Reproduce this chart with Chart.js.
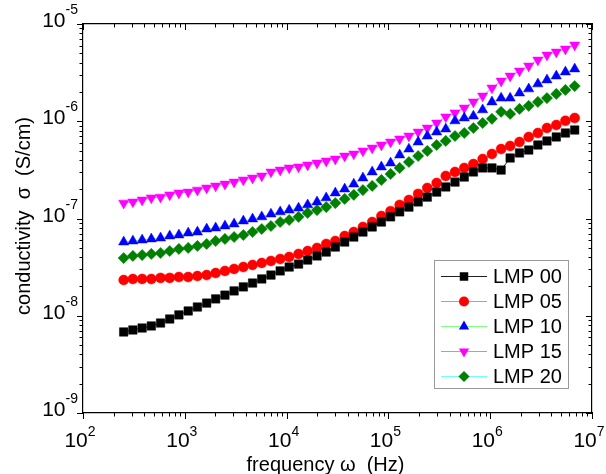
<!DOCTYPE html>
<html>
<head>
<meta charset="utf-8">
<title>conductivity vs frequency</title>
<style>
  html, body { margin: 0; padding: 0; background: #fff; }
  #wrap { width: 606px; height: 474px; }
</style>
</head>
<body>
<div id="wrap"><canvas id="condChart" width="606" height="474"></canvas></div>
<script src="https://cdn.jsdelivr.net/npm/chart.js@4.4.1/dist/chart.umd.min.js"></script>
<script>
// frequency points (Hz), shared by all samples
var freq = [251, 309, 381, 469, 578, 711, 875, 1080, 1330, 1640,
  2010, 2480, 3050, 3760, 4630, 5700, 7020, 8650, 10600, 13100,
  16100, 19900, 24500, 30100, 37200, 45700, 56200, 69300, 85300, 105000,
  129000, 159000, 196000, 241000, 298000, 366000, 451000, 556000, 684000, 843000,
  1040000, 1280000, 1570000, 1940000, 2390000, 2940000, 3610000, 4460000, 5480000, 6760000];

// conductivity (S/cm)
var lmp00 = [6.81e-9, 7.14e-9, 7.48e-9, 7.85e-9, 8.42e-9, 9.26e-9, 1.02e-8, 1.12e-8, 1.23e-8, 1.35e-8,
  1.49e-8, 1.63e-8, 1.80e-8, 1.98e-8, 2.17e-8, 2.39e-8, 2.62e-8, 2.89e-8, 3.17e-8, 3.40e-8,
  3.74e-8, 4.12e-8, 4.52e-8, 5.09e-8, 5.73e-8, 6.45e-8, 7.26e-8, 8.18e-8, 9.20e-8, 1.04e-7,
  1.17e-7, 1.31e-7, 1.48e-7, 1.66e-7, 1.87e-7, 2.11e-7, 2.37e-7, 2.67e-7, 3.01e-7, 3.31e-7,
  3.31e-7, 3.15e-7, 4.19e-7, 4.72e-7, 5.06e-7, 5.70e-7, 6.27e-7, 6.89e-7, 7.57e-7, 8.13e-7];
var lmp05 = [2.33e-8, 2.39e-8, 2.39e-8, 2.39e-8, 2.45e-8, 2.45e-8, 2.50e-8, 2.50e-8, 2.56e-8, 2.62e-8,
  2.75e-8, 2.89e-8, 3.03e-8, 3.17e-8, 3.33e-8, 3.49e-8, 3.66e-8, 3.83e-8, 4.02e-8, 4.32e-8,
  4.63e-8, 4.98e-8, 5.47e-8, 5.87e-8, 6.61e-8, 7.26e-8, 8.18e-8, 9.20e-8, 1.06e-7, 1.19e-7,
  1.38e-7, 1.55e-7, 1.79e-7, 2.06e-7, 2.32e-7, 2.74e-7, 3.01e-7, 3.31e-7, 3.63e-7, 4.09e-7,
  4.61e-7, 5.18e-7, 5.57e-7, 6.12e-7, 6.89e-7, 7.57e-7, 8.52e-7, 9.15e-7, 1.01e-6, 1.08e-6];
var lmp10 = [5.73e-8, 5.87e-8, 6.01e-8, 6.16e-8, 6.30e-8, 6.61e-8, 6.77e-8, 7.09e-8, 7.26e-8, 7.80e-8,
  7.99e-8, 8.37e-8, 8.78e-8, 9.43e-8, 9.88e-8, 1.04e-7, 1.11e-7, 1.17e-7, 1.22e-7, 1.28e-7,
  1.38e-7, 1.48e-7, 1.63e-7, 1.83e-7, 2.01e-7, 2.26e-7, 2.61e-7, 3.01e-7, 3.39e-7, 3.72e-7,
  4.50e-7, 5.18e-7, 6.12e-7, 7.05e-7, 7.75e-7, 8.32e-7, 1.01e-6, 1.08e-6, 1.13e-6, 1.31e-6,
  1.58e-6, 1.73e-6, 1.73e-6, 1.95e-6, 2.15e-6, 2.42e-6, 2.66e-6, 2.92e-6, 3.21e-6, 3.45e-6];
var lmp15 = [1.44e-7, 1.48e-7, 1.55e-7, 1.63e-7, 1.66e-7, 1.75e-7, 1.83e-7, 1.87e-7, 1.96e-7, 2.06e-7,
  2.16e-7, 2.26e-7, 2.37e-7, 2.49e-7, 2.61e-7, 2.74e-7, 3.01e-7, 3.15e-7, 3.31e-7, 3.39e-7,
  3.55e-7, 3.72e-7, 3.90e-7, 4.09e-7, 4.39e-7, 4.61e-7, 4.95e-7, 5.31e-7, 5.70e-7, 6.12e-7,
  6.57e-7, 7.05e-7, 7.75e-7, 8.52e-7, 9.59e-7, 1.11e-6, 1.22e-6, 1.37e-6, 1.58e-6, 1.82e-6,
  2.20e-6, 2.59e-6, 2.92e-6, 3.29e-6, 3.70e-6, 4.26e-6, 4.80e-6, 5.15e-6, 5.53e-6, 6.08e-6];
var lmp20 = [3.92e-8, 4.12e-8, 4.21e-8, 4.32e-8, 4.42e-8, 4.63e-8, 4.86e-8, 4.98e-8, 5.22e-8, 5.47e-8,
  5.87e-8, 6.16e-8, 6.45e-8, 6.77e-8, 7.26e-8, 7.80e-8, 8.37e-8, 9.20e-8, 9.65e-8, 1.04e-7,
  1.14e-7, 1.22e-7, 1.31e-7, 1.44e-7, 1.59e-7, 1.75e-7, 1.96e-7, 2.16e-7, 2.49e-7, 2.87e-7,
  3.31e-7, 3.81e-7, 4.39e-7, 4.95e-7, 5.70e-7, 6.27e-7, 7.05e-7, 7.57e-7, 8.52e-7, 9.59e-7,
  1.06e-6, 1.25e-6, 1.19e-6, 1.34e-6, 1.44e-6, 1.58e-6, 1.73e-6, 1.91e-6, 2.10e-6, 2.30e-6];

var seriesNames = ['LMP 00', 'LMP 05', 'LMP 10', 'LMP 15', 'LMP 20'];

// axis decades and their exponent labels
var xDecades = [1e2, 1e3, 1e4, 1e5, 1e6, 1e7];
var xExpLabels = ['2', '3', '4', '5', '6', '7'];
var yDecades = [1e-9, 1e-8, 1e-7, 1e-6, 1e-5];
var yExpLabels = ['-9', '-8', '-7', '-6', '-5'];
var minorSteps = [2, 3, 4, 5, 6, 7, 8, 9];

(function(){
  var FONT = '"Liberation Sans", Arial, sans-serif';

  function pts(ys){ return ys.map(function(v, i){ return {x: freq[i], y: v}; }); }

  // marker look per series (line colour is the lighter Origin colour)
  var styles = [
    {line: '#202020', fill: '#000000', shape: 'rect',     r: 6.0, rot: 0},
    {line: '#ff8080', fill: '#ff0000', shape: 'circle',   r: 5.0, rot: 0},
    {line: '#80ff80', fill: '#0000ff', shape: 'triangle', r: 5.9, rot: 0},
    {line: '#9a9aff', fill: '#ff00ff', shape: 'triangle', r: 5.9, rot: 180},
    {line: '#70ffff', fill: '#008000', shape: 'rectRot',  r: 5.6, rot: 0}
  ];
  var allData = [lmp00, lmp05, lmp10, lmp15, lmp20];

  var datasets = allData.map(function(d, k){
    var s = styles[k];
    return {
      label: seriesNames[k],
      data: pts(d),
      showLine: true,
      borderColor: s.line,
      borderWidth: 1,
      pointStyle: s.shape,
      pointRotation: s.rot,
      pointRadius: s.r,
      pointHoverRadius: s.r,
      pointBackgroundColor: s.fill,
      pointBorderColor: s.fill,
      pointBorderWidth: 0.5,
      order: k
    };
  });

  function line(ctx, x1, y1, x2, y2){ ctx.beginPath(); ctx.moveTo(x1, y1); ctx.lineTo(x2, y2); ctx.stroke(); }

  // ticks, tick labels and axis titles drawn against the chart's own scales
  var axisDeco = {
    id: 'axisDeco',
    afterDraw: function(chart){
      var ctx = chart.ctx, xs = chart.scales.x, ys = chart.scales.y, a = chart.chartArea;
      ctx.save();
      ctx.strokeStyle = '#000';
      ctx.lineWidth = 1;
      var majLen = 6, minLen = 3.5;

      function xTick(v, len){
        var px = Math.round(xs.getPixelForValue(v)) + 0.5;
        line(ctx, px, a.bottom, px, a.bottom + len);   // out
        line(ctx, px, a.top, px, a.top + len);         // in
      }
      function yTick(v, len){
        var py = Math.round(ys.getPixelForValue(v)) + 0.5;
        line(ctx, a.left - len, py, a.left, py);       // out
        line(ctx, a.right - len, py, a.right, py);     // in
      }
      xDecades.forEach(function(d, i){
        xTick(d, majLen);
        if (i < xDecades.length - 1) minorSteps.forEach(function(m){ xTick(d * m, minLen); });
      });
      yDecades.forEach(function(d, i){
        yTick(d, majLen);
        if (i < yDecades.length - 1) minorSteps.forEach(function(m){ yTick(d * m, minLen); });
      });

      ctx.fillStyle = '#000';
      ctx.textBaseline = 'alphabetic';
      var bigF = '21px ' + FONT, supF = '14px ' + FONT;

      // x tick labels 10^n centred on the tick
      xDecades.forEach(function(d, i){
        var px = xs.getPixelForValue(d);
        ctx.font = bigF; var w1 = ctx.measureText('10').width;
        ctx.font = supF; var w2 = ctx.measureText(xExpLabels[i]).width;
        var x0 = px - (w1 + w2) / 2 - 3;
        var base = a.bottom + 34;
        ctx.font = bigF; ctx.textAlign = 'left'; ctx.fillText('10', x0, base);
        ctx.font = supF; ctx.fillText(xExpLabels[i], x0 + w1, base - 11);
      });

      // y tick labels, right aligned left of the axis
      yDecades.forEach(function(d, i){
        var py = ys.getPixelForValue(d);
        ctx.font = supF; var w2 = ctx.measureText(yExpLabels[i]).width;
        var xr = a.left - 5;
        var base = py + 3;
        ctx.textAlign = 'right';
        ctx.fillText(yExpLabels[i], xr, base - 13);
        ctx.font = bigF; ctx.fillText('10', xr - w2, base);
      });

      // axis titles
      ctx.font = '20px ' + FONT;
      ctx.textAlign = 'center';
      ctx.fillText('frequency \u03c9  (Hz)', (a.left + a.right) / 2 - 12, 471);
      ctx.save();
      ctx.translate(30, 216);
      ctx.rotate(-Math.PI / 2);
      ctx.fillText('conductivity  \u03c3  (S/cm)', 0, 0);
      ctx.restore();
      ctx.restore();
    }
  };

  function drawMarker(ctx, s, x, y){
    var r = s.r;
    ctx.beginPath();
    if (s.shape === 'rect') {
      var h = r * Math.SQRT1_2;
      ctx.rect(x - h, y - h, 2 * h, 2 * h);
    } else if (s.shape === 'circle') {
      ctx.arc(x, y, r, 0, Math.PI * 2);
    } else if (s.shape === 'rectRot') {
      ctx.moveTo(x, y - r); ctx.lineTo(x + r, y); ctx.lineTo(x, y + r); ctx.lineTo(x - r, y);
    } else {
      var dir = s.rot === 180 ? -1 : 1;
      ctx.moveTo(x, y - dir * r);
      ctx.lineTo(x + r * 0.866, y + dir * r / 2);
      ctx.lineTo(x - r * 0.866, y + dir * r / 2);
    }
    ctx.closePath();
    ctx.fillStyle = s.fill;
    ctx.fill();
  }

  // Origin-style boxed legend: line through symbol, then the name
  var boxLegend = {
    id: 'boxLegend',
    afterDraw: function(chart){
      var ctx = chart.ctx;
      var bx = 434.5, by = 260.5, bw = 134, bh = 128;
      ctx.save();
      ctx.fillStyle = '#fff';
      ctx.fillRect(bx, by, bw, bh);
      ctx.strokeStyle = '#9a9a9a';
      ctx.lineWidth = 1;
      ctx.strokeRect(bx, by, bw, bh);
      ctx.font = '20px ' + FONT;
      ctx.textBaseline = 'middle';
      ctx.textAlign = 'left';
      seriesNames.forEach(function(name, k){
        var s = styles[k];
        var y = 276 + k * 25;
        ctx.strokeStyle = s.line;
        line(ctx, 441, y + 0.5, 487, y + 0.5);
        drawMarker(ctx, s, 464, y + 0.5);
        ctx.fillStyle = '#000';
        ctx.fillText(name, 493, y + 1);
      });
      ctx.restore();
    }
  };

  var axisBorder = {display: true, color: '#000', width: 1.2};
  var noGrid = {display: false, drawTicks: false, tickLength: 0};
  new Chart(document.getElementById('condChart').getContext('2d'), {
    type: 'scatter',
    data: {datasets: datasets},
    options: {
      responsive: false,
      animation: false,
      devicePixelRatio: 1,
      layout: {padding: {left: 83, right: 14, top: 24, bottom: 61}},
      scales: {
        x: {type: 'logarithmic', position: 'bottom', min: 1e2, max: 1e7,
            ticks: {display: false}, grid: noGrid, border: axisBorder},
        y: {type: 'logarithmic', position: 'left', min: 1e-9, max: 1e-5,
            ticks: {display: false}, grid: noGrid, border: axisBorder},
        x2: {type: 'logarithmic', position: 'top', min: 1e2, max: 1e7,
             ticks: {display: false}, grid: noGrid, border: axisBorder},
        y2: {type: 'logarithmic', position: 'right', min: 1e-9, max: 1e-5,
             ticks: {display: false}, grid: noGrid, border: axisBorder}
      },
      plugins: {legend: {display: false}, tooltip: {enabled: false}}
    },
    plugins: [axisDeco, boxLegend]
  });
})();
</script>
</body>
</html>
